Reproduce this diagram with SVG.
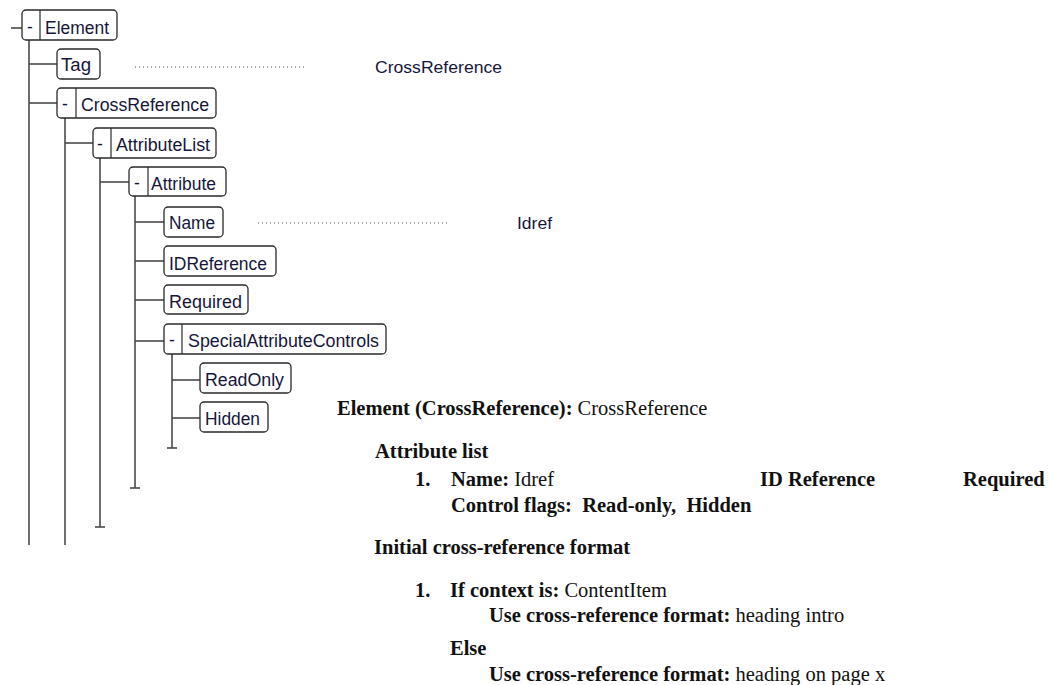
<svg xmlns="http://www.w3.org/2000/svg" width="1051" height="685" viewBox="0 0 1051 685">
  <style>
    .box { fill: #ffffff; stroke: #2a2a2a; stroke-width: 1.3; }
    .div { stroke: #2a2a2a; stroke-width: 1.2; }
    .wire { stroke: #4a4a4a; stroke-width: 1.6; fill: none; }
    .dots { stroke: #555; stroke-width: 1; stroke-dasharray: 1 3; }
    .lbl { font-family: "Liberation Sans", Tahoma, Arial, sans-serif; font-size: 17.5px; fill: #16163a; }
    .val { font-family: "Liberation Sans", Arial, sans-serif; font-size: 16px; fill: #16163a; }
    .doc { font-family: "Liberation Serif", "Times New Roman", serif; font-size: 20.5px; fill: #111; }
    .b { font-weight: bold; }
  </style>

  <!-- tree connectors -->
  <g id="connectors">
    <line class="wire" x1="11" y1="28" x2="22" y2="28"/>
    <line class="wire" x1="29" y1="40" x2="29" y2="545"/>
    <line class="wire" x1="29" y1="64" x2="57" y2="64"/>
    <line class="wire" x1="29" y1="103" x2="57" y2="103"/>
    <line class="wire" x1="65" y1="118" x2="65" y2="545"/>
    <line class="wire" x1="65" y1="143" x2="93" y2="143"/>
    <line class="wire" x1="100" y1="157" x2="100" y2="527"/>
    <line class="wire" x1="95" y1="527" x2="105" y2="527"/>
    <line class="wire" x1="100" y1="182" x2="129" y2="182"/>
    <line class="wire" x1="135" y1="196" x2="135" y2="488"/>
    <line class="wire" x1="130" y1="488" x2="140" y2="488"/>
    <line class="wire" x1="135" y1="222" x2="164" y2="222"/>
    <line class="wire" x1="135" y1="261" x2="164" y2="261"/>
    <line class="wire" x1="135" y1="300" x2="164" y2="300"/>
    <line class="wire" x1="135" y1="341" x2="164" y2="341"/>
    <line class="wire" x1="172" y1="354" x2="172" y2="448"/>
    <line class="wire" x1="167" y1="448" x2="177" y2="448"/>
    <line class="wire" x1="172" y1="380" x2="200" y2="380"/>
    <line class="wire" x1="172" y1="418" x2="200" y2="418"/>
    <!-- value leaders -->
    <line class="dots" x1="135" y1="67" x2="304" y2="67"/>
    <line class="dots" x1="258" y1="223" x2="448" y2="223"/>
  </g>

  <g id="node-element">
    <rect class="box" x="22" y="10" width="95" height="30" rx="4"/>
    <line class="div" x1="40" y1="10" x2="40" y2="40"/>
    <text class="lbl" x="27" y="33">-</text>
    <text class="lbl" x="45" y="33.5" textLength="64" lengthAdjust="spacingAndGlyphs">Element</text>
  </g>
  <g id="node-tag">
    <rect class="box" x="57" y="49" width="43" height="30" rx="4"/>
    <text class="lbl" x="61" y="71" textLength="30" lengthAdjust="spacingAndGlyphs">Tag</text>
  </g>
  <g id="node-crossreference">
    <rect class="box" x="57" y="88" width="159" height="30" rx="4"/>
    <line class="div" x1="76" y1="88" x2="76" y2="118"/>
    <text class="lbl" x="62" y="110">-</text>
    <text class="lbl" x="81" y="110.5" textLength="128" lengthAdjust="spacingAndGlyphs">CrossReference</text>
  </g>
  <g id="node-attributelist">
    <rect class="box" x="93" y="128" width="123" height="30" rx="4"/>
    <line class="div" x1="111" y1="128" x2="111" y2="158"/>
    <text class="lbl" x="97" y="150">-</text>
    <text class="lbl" x="116" y="150.5" textLength="94" lengthAdjust="spacingAndGlyphs">AttributeList</text>
  </g>
  <g id="node-attribute">
    <rect class="box" x="129" y="167" width="97" height="29" rx="4"/>
    <line class="div" x1="148" y1="167" x2="148" y2="196"/>
    <text class="lbl" x="134" y="189">-</text>
    <text class="lbl" x="151" y="189.5" textLength="65" lengthAdjust="spacingAndGlyphs">Attribute</text>
  </g>
  <g id="node-name">
    <rect class="box" x="164" y="207" width="59" height="30" rx="4"/>
    <text class="lbl" x="169" y="229" textLength="46" lengthAdjust="spacingAndGlyphs">Name</text>
  </g>
  <g id="node-idreference">
    <rect class="box" x="164" y="246" width="112" height="30" rx="4"/>
    <text class="lbl" x="169" y="269.5" textLength="98" lengthAdjust="spacingAndGlyphs">IDReference</text>
  </g>
  <g id="node-required">
    <rect class="box" x="164" y="285" width="84" height="29" rx="4"/>
    <text class="lbl" x="169" y="307.5" textLength="73" lengthAdjust="spacingAndGlyphs">Required</text>
  </g>
  <g id="node-specialattributecontrols">
    <rect class="box" x="164" y="324" width="222" height="30" rx="4"/>
    <line class="div" x1="182" y1="324" x2="182" y2="354"/>
    <text class="lbl" x="169" y="346">-</text>
    <text class="lbl" x="188" y="346.5" textLength="191" lengthAdjust="spacingAndGlyphs">SpecialAttributeControls</text>
  </g>
  <g id="node-readonly">
    <rect class="box" x="200" y="363" width="91" height="30" rx="4"/>
    <text class="lbl" x="205" y="386" textLength="79" lengthAdjust="spacingAndGlyphs">ReadOnly</text>
  </g>
  <g id="node-hidden">
    <rect class="box" x="200" y="402" width="68" height="30" rx="4"/>
    <text class="lbl" x="205" y="425" textLength="55" lengthAdjust="spacingAndGlyphs">Hidden</text>
  </g>

  <!-- values shown beside leaf nodes -->
  <g id="values">
    <text class="val" x="375" y="73" textLength="127" lengthAdjust="spacingAndGlyphs">CrossReference</text>
    <text class="val" x="517" y="229" textLength="35" lengthAdjust="spacingAndGlyphs">Idref</text>
  </g>

  <!-- element definition summary -->
  <g id="summary">
    <text class="doc" x="337" y="415"><tspan class="b">Element (CrossReference):</tspan> CrossReference</text>
    <text class="doc b" x="375" y="458">Attribute list</text>
    <text class="doc b" x="415" y="486">1.</text>
    <text class="doc" x="451" y="486"><tspan class="b">Name:</tspan> Idref</text>
    <text class="doc b" x="760" y="486">ID Reference</text>
    <text class="doc b" x="963" y="486">Required</text>
    <text class="doc b" x="451" y="512" xml:space="preserve">Control flags:  Read-only,  Hidden</text>
    <text class="doc b" x="374" y="554">Initial cross-reference format</text>
    <text class="doc b" x="415" y="597">1.</text>
    <text class="doc" x="450" y="597"><tspan class="b">If context is:</tspan> ContentItem</text>
    <text class="doc" x="489" y="622"><tspan class="b">Use cross-reference format:</tspan> heading intro</text>
    <text class="doc b" x="450" y="655">Else</text>
    <text class="doc" x="489" y="681"><tspan class="b">Use cross-reference format:</tspan> heading on page x</text>
  </g>
</svg>
